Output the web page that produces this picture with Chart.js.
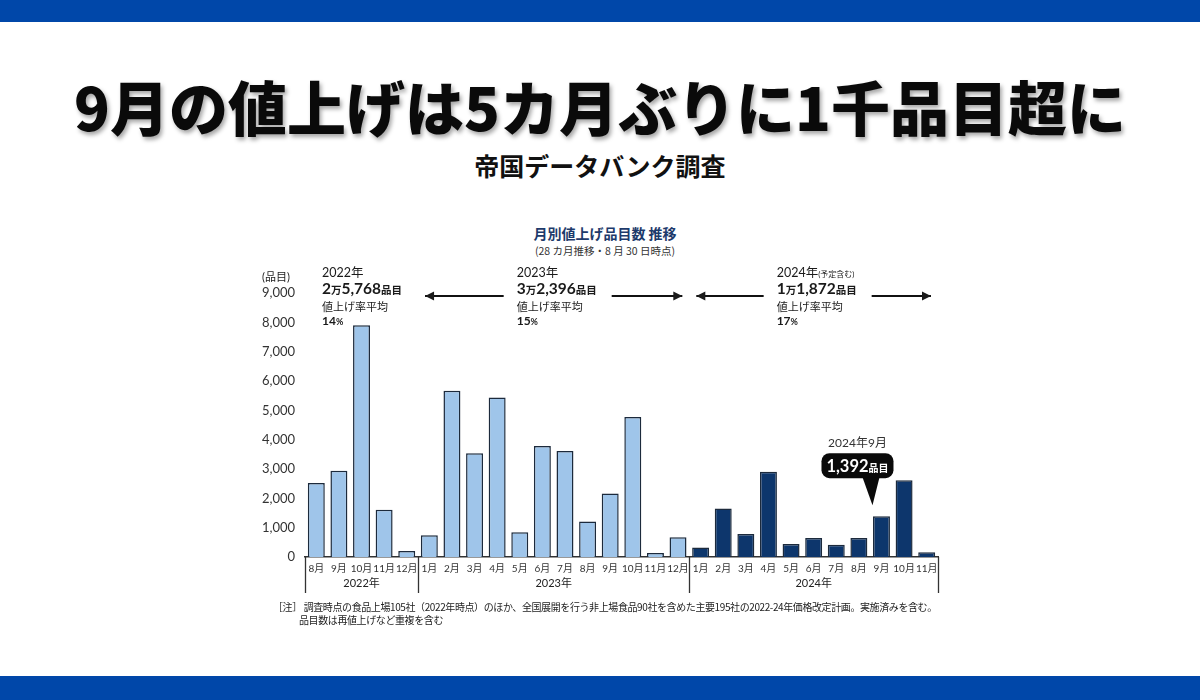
<!DOCTYPE html>
<html lang="ja">
<head>
<meta charset="utf-8">
<script src="https://cdn.jsdelivr.net/npm/chart.js@4.4.1/dist/chart.umd.min.js"></script>
<style>
  body { margin: 0; width: 1200px; height: 700px; position: relative; overflow: hidden; background: #fff;
         font-family: "Noto Sans CJK JP", sans-serif; color: #111; }
  .band { position: absolute; left: 0; width: 1200px; background: #0047a9; }
  #headline { position: absolute; left: 0; top: 76px; width: 1200px; text-align: center; margin: 0;
              font-size: 59px; line-height: 60px; font-weight: 900; color: #0a0a0a;
              text-shadow: 2px 3px 4px rgba(0,0,0,0.35); }
  #source { position: absolute; left: 0; top: 152px; width: 1200px; text-align: center; margin: 0;
            font-size: 25px; line-height: 26px; font-weight: 700; }
  #chartTitle { position: absolute; left: 505px; top: 224px; width: 200px; text-align: center;
                font-size: 14px; line-height: 18px; font-weight: 700; color: #1d3a6b; }
  #chartSub { position: absolute; left: 505px; top: 244px; width: 200px; text-align: center;
              font-size: 10.5px; line-height: 14px; color: #333; }
  #note { position: absolute; left: 273px; top: 600px; font-size: 10px; line-height: 13px; color: #222;
          letter-spacing: -0.4px; }
  #note .l2 { padding-left: 26px; }
  canvas { position: absolute; left: 0; top: 0; }
</style>
</head>
<body>
<div class="band" style="top:0;height:22px"></div>
<div class="band" style="top:676px;height:24px"></div>
<h1 id="headline">9月の値上げは5カ月ぶりに1千品目超に</h1>
<h2 id="source">帝国データバンク調査</h2>
<div id="chartTitle">月別値上げ品目数&nbsp;推移</div>
<div id="chartSub">(28 カ月推移・8 月 30 日時点)</div>
<canvas id="chart" width="1200" height="700"></canvas>
<div id="note">
  <div>［注］ 調査時点の食品上場105社（2022年時点）のほか、全国展開を行う非上場食品90社を含めた主要195社の2022-24年価格改定計画。実施済みを含む。</div>
  <div class="l2">品目数は再値上げなど重複を含む</div>
</div>

<script>
// 月ごとの値上げ品目数 (2022年8月〜2024年11月)
const months = ['8月', '9月', '10月', '11月', '12月',
  '1月', '2月', '3月', '4月', '5月', '6月', '7月', '8月', '9月', '10月', '11月', '12月',
  '1月', '2月', '3月', '4月', '5月', '6月', '7月', '8月', '9月', '10月', '11月'];
const monthYears = [2022, 2022, 2022, 2022, 2022,
  2023, 2023, 2023, 2023, 2023, 2023, 2023, 2023, 2023, 2023, 2023, 2023,
  2024, 2024, 2024, 2024, 2024, 2024, 2024, 2024, 2024, 2024, 2024];
const counts = [2520, 2940, 7900, 1610, 205,
  740, 5665, 3535, 5435, 845, 3785, 3615, 1210, 2165, 4775, 140, 675,
  325, 1650, 785, 2905, 445, 650, 420, 650, 1392, 2620, 160];

const yearLabels = ['2022年', '2023年', '2024年'];
const yearHeads = [['2022年', ''], ['2023年', ''], ['2024年', '(予定含む)']];
const yearTotals = ['2万5,768品目', '3万2,396品目', '1万1,872品目'];
const yearRates = ['14%', '15%', '17%'];

const yMin = 0, yMax = 9000, yStep = 1000;
const highlightIndex = 25;
const highlightLabel = '2024年9月';

const lightBlue = '#9fc5ea';
const navy = '#0d366c';
const FONT = '"Lato", "Noto Sans CJK JP", sans-serif';

// 数字は大きく、単位(万・品目・%)は小さく描く
function richParts(str, big, small) {
  return str.split(/([0-9,]+)/).filter(s => s).map(s => [s, /[0-9]/.test(s) ? big : small]);
}
function drawRich(ctx, x, y, parts, weight, align) {
  let w = 0;
  parts.forEach(p => { ctx.font = `${weight} ${p[1]}px ${FONT}`; w += ctx.measureText(p[0]).width; });
  let cx = align === 'center' ? x - w / 2 : x;
  ctx.textAlign = 'left';
  ctx.textBaseline = 'alphabetic';
  parts.forEach(p => {
    ctx.font = `${weight} ${p[1]}px ${FONT}`;
    ctx.fillText(p[0], cx, y);
    cx += ctx.measureText(p[0]).width;
  });
}
function arrow(ctx, x1, x2, y, headAt) {
  ctx.beginPath();
  ctx.moveTo(x1, y); ctx.lineTo(x2, y);
  ctx.stroke();
  const hx = headAt === 'left' ? x1 : x2;
  const d = headAt === 'left' ? 1 : -1;
  ctx.beginPath();
  ctx.moveTo(hx, y);
  ctx.lineTo(hx + 9 * d, y - 4.5);
  ctx.lineTo(hx + 9 * d, y + 4.5);
  ctx.closePath();
  ctx.fill();
}

const annotations = {
  id: 'annotations',
  afterDraw(chart) {
    const { ctx, chartArea: a, scales: { x } } = chart;
    const pitch = x.getPixelForValue(1) - x.getPixelForValue(0);

    // 年ごとのグループ
    const groups = [];
    let s = 0;
    for (let i = 1; i <= months.length; i++) {
      if (i === months.length || monthYears[i] !== monthYears[s]) {
        groups.push({ from: x.getPixelForValue(s) - pitch / 2, to: x.getPixelForValue(i - 1) + pitch / 2 });
        s = i;
      }
    }

    ctx.save();
    ctx.strokeStyle = '#333';
    ctx.fillStyle = '#222';
    ctx.lineWidth = 1.3;

    // 年区切りの縦線と年ラベル
    const edges = groups.map(g => g.from).concat([groups[groups.length - 1].to]);
    edges.forEach(ex => {
      ctx.beginPath();
      ctx.moveTo(Math.round(ex) + 0.5, a.bottom);
      ctx.lineTo(Math.round(ex) + 0.5, a.bottom + 36);
      ctx.stroke();
    });
    ctx.font = `400 11px ${FONT}`;
    ctx.textAlign = 'center';
    ctx.textBaseline = 'middle';
    groups.forEach((g, i) => ctx.fillText(yearLabels[i], (g.from + g.to) / 2, a.bottom + 26));

    // 単位
    ctx.font = `400 11px ${FONT}`;
    ctx.textAlign = 'left';
    ctx.fillText('(品目)', a.left - 43, a.top - 16);

    // 年ごとの合計と平均値上げ率
    ctx.fillStyle = '#1a1a1a';
    ctx.lineWidth = 2;
    ctx.strokeStyle = '#111';
    groups.forEach((g, i) => {
      const left = i === 0 ? g.from + 17 : (g.from + g.to) / 2 - 37;
      const head = [[yearHeads[i][0], 12.5]];
      if (yearHeads[i][1]) head.push([yearHeads[i][1], 8]);
      drawRich(ctx, left, a.top - 16, head, 400, 'left');
      drawRich(ctx, left, a.top + 1, richParts(yearTotals[i], 15.5, 10.5), 700, 'left');
      ctx.font = `400 11px ${FONT}`;
      ctx.fillText('値上げ率平均', left, a.top + 18);
      drawRich(ctx, left, a.top + 32, richParts(yearRates[i], 12, 9), 700, 'left');
      if (i > 0) {
        arrow(ctx, g.from + 7, left - 13, a.top + 3, 'left');
        arrow(ctx, left + 95, g.to - 7, a.top + 3, 'right');
      }
    });

    // 2024年9月の吹き出し
    const bar = chart.getDatasetMeta(0).data[highlightIndex];
    const bx = bar.x, by = bar.y;
    const cx = bx - 24, boxTop = by - 63, boxW = 72, boxH = 25;
    ctx.fillStyle = '#333';
    ctx.font = `400 12px ${FONT}`;
    ctx.textAlign = 'center';
    ctx.textBaseline = 'middle';
    ctx.fillText(highlightLabel, cx, boxTop - 10);
    ctx.fillStyle = '#0a0a0a';
    ctx.beginPath();
    ctx.roundRect(cx - boxW / 2, boxTop, boxW, boxH, 8);
    ctx.fill();
    ctx.beginPath();
    ctx.moveTo(bx - 19, boxTop + boxH - 1);
    ctx.lineTo(bx - 2, boxTop + boxH - 1);
    ctx.lineTo(bx - 9, by - 11);
    ctx.closePath();
    ctx.fill();
    ctx.fillStyle = '#fff';
    const v = counts[highlightIndex].toLocaleString('en-US');
    drawRich(ctx, cx, boxTop + 19, [[v, 16.5], ['品目', 10]], 700, 'center');
    ctx.restore();
  }
};

new Chart(document.getElementById('chart'), {
  type: 'bar',
  data: {
    labels: months,
    datasets: [{
      label: '値上げ品目数',
      data: counts,
      backgroundColor: monthYears.map(y => y === 2024 ? navy : lightBlue),
      borderColor: '#1c2a3c',
      borderWidth: 1.5,
      borderSkipped: 'bottom',
      categoryPercentage: 1,
      barPercentage: 0.75
    }]
  },
  options: {
    responsive: false,
    animation: false,
    locale: 'en-US',
    layout: { padding: { left: 250, right: 262, top: 293, bottom: 103 } },
    plugins: { legend: { display: false }, tooltip: { enabled: false }, title: { display: false } },
    scales: {
      x: {
        grid: { display: false, drawTicks: false },
        border: { display: true, color: '#333', width: 1.5 },
        ticks: { color: '#333', font: { family: FONT, size: 10 }, padding: 6, maxRotation: 0, autoSkip: false },
        afterFit(scale) { scale.height = 40; }
      },
      y: {
        min: yMin,
        max: yMax,
        grid: { display: false, drawTicks: false },
        border: { display: false },
        ticks: { stepSize: yStep, color: '#333', font: { family: FONT, size: 13 }, padding: 10 },
        afterFit(scale) { scale.width = 55; }
      }
    }
  },
  plugins: [annotations]
});
</script>
</body>
</html>
